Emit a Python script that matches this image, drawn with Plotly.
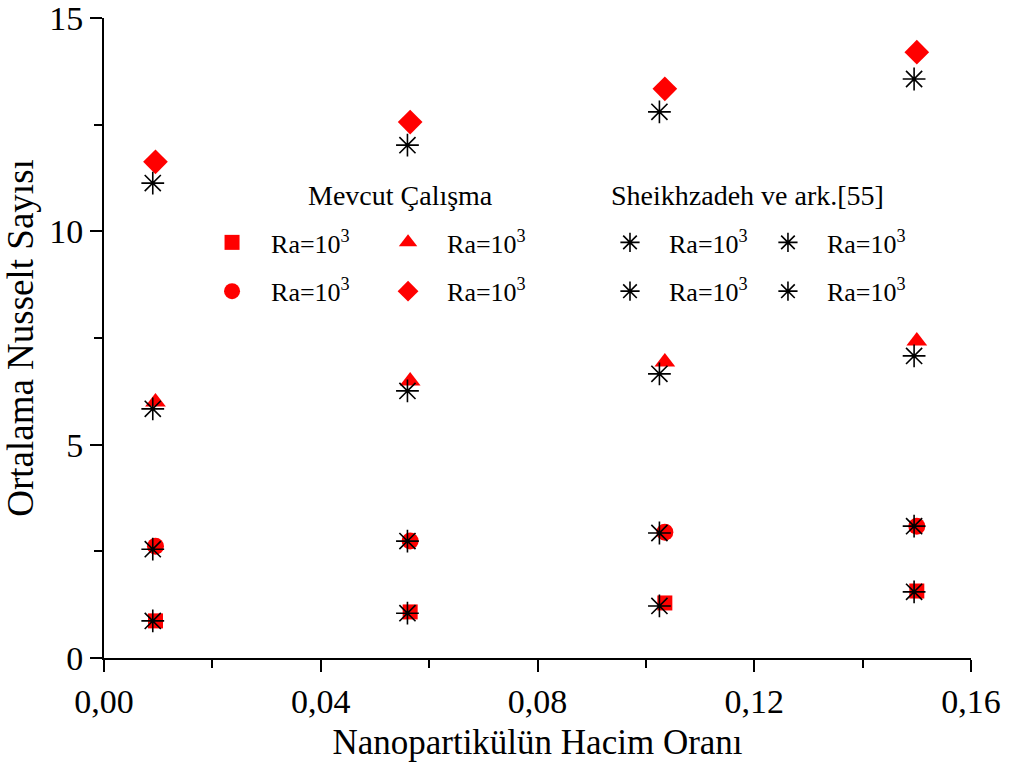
import plotly.graph_objects as go

# Nanoparticle volume fraction (x) and mean Nusselt number (y)
phi_present = [0.0095, 0.0565, 0.1035, 0.150]
phi_ref = [0.0090, 0.0560, 0.1025, 0.1495]

nu_present_sq = [0.87, 1.08, 1.29, 1.57]
nu_present_circ = [2.62, 2.74, 2.95, 3.09]
nu_present_tri = [6.00, 6.49, 6.94, 7.43]
nu_present_dia = [11.63, 12.56, 13.34, 14.20]

nu_ref_1 = [0.87, 1.05, 1.22, 1.55]
nu_ref_2 = [2.55, 2.74, 2.93, 3.09]
nu_ref_3 = [5.84, 6.26, 6.66, 7.08]
nu_ref_4 = [11.13, 12.02, 12.80, 13.57]

x_ticks = [0, 0.04, 0.08, 0.12, 0.16]
y_ticks = [0, 5, 10, 15]

label = "Ra=10<sup>3</sup>"
FONT = "Liberation Serif"
RED = "#ff0000"

fig = go.Figure()

present = [
    (nu_present_sq, "square", 15, "legend"),
    (nu_present_circ, "circle", 17, "legend"),
    (nu_present_tri, "triangle-up", 18, "legend2"),
    (nu_present_dia, "diamond", 19, "legend2"),
]
for i, (ys, sym, sz, lg) in enumerate(present):
    fig.add_trace(go.Scatter(
        x=phi_present, y=ys, mode="markers", name=label, legend=lg,
        legendgroup=f"p{i}",
        marker=dict(symbol=sym, size=sz, color=RED, line=dict(width=0)),
    ))

reference = [
    (nu_ref_1, "legend3"),
    (nu_ref_2, "legend3"),
    (nu_ref_3, "legend4"),
    (nu_ref_4, "legend4"),
]
for i, (ys, lg) in enumerate(reference):
    fig.add_trace(go.Scatter(
        x=phi_ref, y=ys, mode="markers", name=label, legend=lg,
        legendgroup=f"r{i}",
        marker=dict(symbol="asterisk-open", size=19, color="black",
                    line=dict(width=1.6, color="black")),
    ))

leg_common = dict(
    font=dict(family=FONT, size=26, color="black"),
    bgcolor="rgba(0,0,0,0)", borderwidth=0,
    xanchor="left", yanchor="top", itemwidth=68, tracegroupgap=12,
)
fig.update_layout(
    legend=dict(x=0.1027, y=0.686, **leg_common),
    legend2=dict(x=0.3057, y=0.686, **leg_common),
    legend3=dict(x=0.5617, y=0.686, **leg_common),
    legend4=dict(x=0.7439, y=0.686, **leg_common),
)

fig.add_annotation(text="Mevcut Çalışma", x=0.233, y=0.7234, xref="paper", yref="paper",
                   xanchor="left", yanchor="middle", showarrow=False,
                   font=dict(family=FONT, size=28, color="black"))
fig.add_annotation(text="Sheikhzadeh ve ark.[55]", x=0.583, y=0.7234, xref="paper", yref="paper",
                   xanchor="left", yanchor="middle", showarrow=False,
                   font=dict(family=FONT, size=28, color="black"))

axis_common = dict(
    showgrid=False, zeroline=False, showline=True, linecolor="black", linewidth=2,
    ticks="outside", ticklen=12, tickwidth=2, tickcolor="black",
    tickfont=dict(family=FONT, size=34, color="black"),
    ticklabeloverflow="allow",
    mirror=False, automargin=False,
)
fig.update_xaxes(
    range=[0, 0.16], tickvals=x_ticks, tickformat=".2f",
    minor=dict(tickvals=[0.02, 0.06, 0.10, 0.14], ticks="outside", ticklen=8,
               tickwidth=2, tickcolor="black"),
    title=dict(text="Nanopartikülün Hacim Oranı", font=dict(family=FONT, size=35, color="black"),
               standoff=16),
    **axis_common,
)
fig.update_yaxes(
    range=[0, 15], tickvals=y_ticks,
    minor=dict(tickvals=[2.5, 7.5, 12.5], ticks="outside", ticklen=8,
               tickwidth=2, tickcolor="black"),
    title=dict(text="Ortalama Nusselt Sayısı", font=dict(family=FONT, size=37, color="black"),
               standoff=10),
    **axis_common,
)

fig.update_layout(
    width=1010, height=762,
    margin=dict(l=104, r=39, t=18, b=104),
    font=dict(family=FONT, color="black"),
    paper_bgcolor="white", plot_bgcolor="white",
    separators=", ",
    showlegend=True,
)

fig.write_html("out.html")
